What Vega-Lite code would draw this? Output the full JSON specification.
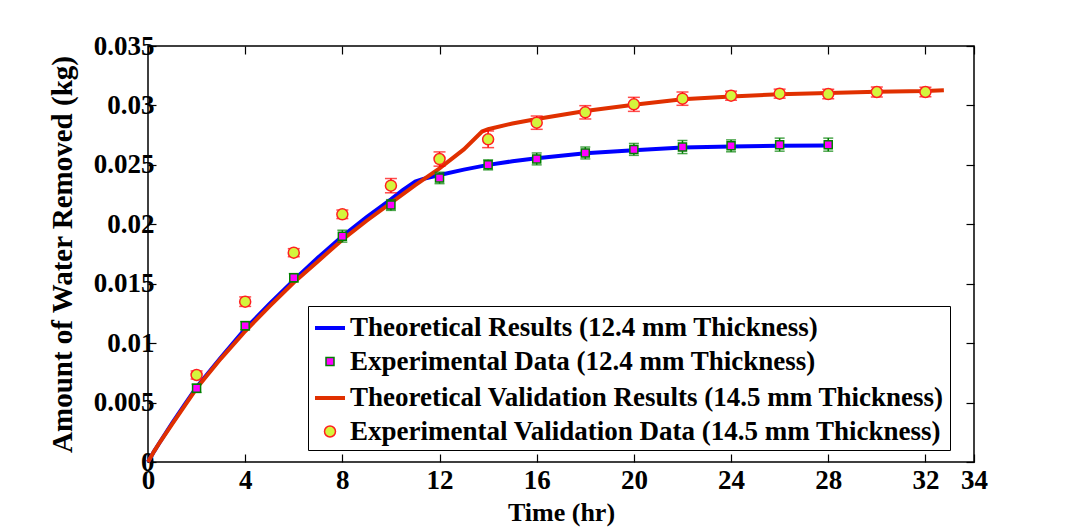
{
  "$schema": "https://vega.github.io/schema/vega-lite/v6.json",
  "width": 826,
  "height": 416,
  "autosize": {"type": "none"},
  "padding": {"left": 148, "top": 46, "right": 101, "bottom": 68},
  "background": "white",
  "config": {
    "font": "Liberation Serif",
    "view": {"stroke": "black", "strokeWidth": 1.5},
    "axis": {
      "labelFont": "Liberation Serif", "labelFontSize": 27, "labelFontWeight": "bold", "labelColor": "black",
      "titleFont": "Liberation Serif", "titleFontWeight": "bold", "titleColor": "black",
      "tickColor": "black", "tickSize": -8, "tickWidth": 1.2, "grid": false, "domain": false
    },
    "legend": {"labelFont": "Liberation Serif", "labelFontWeight": "bold"}
  },
  "datasets": {
    "theory": [
      {"series": "Theoretical Results (12.4 mm Thickness)", "t": 0, "w": 0},
      {"series": "Theoretical Results (12.4 mm Thickness)", "t": 0.25, "w": 0.0009},
      {"series": "Theoretical Results (12.4 mm Thickness)", "t": 0.5, "w": 0.0017},
      {"series": "Theoretical Results (12.4 mm Thickness)", "t": 1, "w": 0.0033},
      {"series": "Theoretical Results (12.4 mm Thickness)", "t": 1.5, "w": 0.0048},
      {"series": "Theoretical Results (12.4 mm Thickness)", "t": 2, "w": 0.0063},
      {"series": "Theoretical Results (12.4 mm Thickness)", "t": 3, "w": 0.0088},
      {"series": "Theoretical Results (12.4 mm Thickness)", "t": 4, "w": 0.0112},
      {"series": "Theoretical Results (12.4 mm Thickness)", "t": 5, "w": 0.0133},
      {"series": "Theoretical Results (12.4 mm Thickness)", "t": 6, "w": 0.0153},
      {"series": "Theoretical Results (12.4 mm Thickness)", "t": 7, "w": 0.0172},
      {"series": "Theoretical Results (12.4 mm Thickness)", "t": 8, "w": 0.019},
      {"series": "Theoretical Results (12.4 mm Thickness)", "t": 9, "w": 0.0206},
      {"series": "Theoretical Results (12.4 mm Thickness)", "t": 10, "w": 0.0221},
      {"series": "Theoretical Results (12.4 mm Thickness)", "t": 10.5, "w": 0.0229},
      {"series": "Theoretical Results (12.4 mm Thickness)", "t": 11, "w": 0.0236},
      {"series": "Theoretical Results (12.4 mm Thickness)", "t": 11.3, "w": 0.0238},
      {"series": "Theoretical Results (12.4 mm Thickness)", "t": 12, "w": 0.02415},
      {"series": "Theoretical Results (12.4 mm Thickness)", "t": 13, "w": 0.0246},
      {"series": "Theoretical Results (12.4 mm Thickness)", "t": 14, "w": 0.025},
      {"series": "Theoretical Results (12.4 mm Thickness)", "t": 15, "w": 0.0253},
      {"series": "Theoretical Results (12.4 mm Thickness)", "t": 16, "w": 0.02555},
      {"series": "Theoretical Results (12.4 mm Thickness)", "t": 18, "w": 0.02597},
      {"series": "Theoretical Results (12.4 mm Thickness)", "t": 20, "w": 0.02622},
      {"series": "Theoretical Results (12.4 mm Thickness)", "t": 22, "w": 0.02645},
      {"series": "Theoretical Results (12.4 mm Thickness)", "t": 24, "w": 0.02655},
      {"series": "Theoretical Results (12.4 mm Thickness)", "t": 26, "w": 0.0266},
      {"series": "Theoretical Results (12.4 mm Thickness)", "t": 28, "w": 0.02662},
      {"series": "Theoretical Validation Results (14.5 mm Thickness)", "t": 0, "w": 0},
      {"series": "Theoretical Validation Results (14.5 mm Thickness)", "t": 0.25, "w": 0.0009},
      {"series": "Theoretical Validation Results (14.5 mm Thickness)", "t": 0.5, "w": 0.0017},
      {"series": "Theoretical Validation Results (14.5 mm Thickness)", "t": 1, "w": 0.0032},
      {"series": "Theoretical Validation Results (14.5 mm Thickness)", "t": 1.5, "w": 0.0047},
      {"series": "Theoretical Validation Results (14.5 mm Thickness)", "t": 2, "w": 0.0062},
      {"series": "Theoretical Validation Results (14.5 mm Thickness)", "t": 3, "w": 0.0087},
      {"series": "Theoretical Validation Results (14.5 mm Thickness)", "t": 4, "w": 0.011},
      {"series": "Theoretical Validation Results (14.5 mm Thickness)", "t": 5, "w": 0.0131},
      {"series": "Theoretical Validation Results (14.5 mm Thickness)", "t": 6, "w": 0.0151},
      {"series": "Theoretical Validation Results (14.5 mm Thickness)", "t": 7, "w": 0.0169},
      {"series": "Theoretical Validation Results (14.5 mm Thickness)", "t": 8, "w": 0.0187},
      {"series": "Theoretical Validation Results (14.5 mm Thickness)", "t": 9, "w": 0.0203},
      {"series": "Theoretical Validation Results (14.5 mm Thickness)", "t": 10, "w": 0.0218},
      {"series": "Theoretical Validation Results (14.5 mm Thickness)", "t": 11, "w": 0.0233},
      {"series": "Theoretical Validation Results (14.5 mm Thickness)", "t": 12, "w": 0.0247},
      {"series": "Theoretical Validation Results (14.5 mm Thickness)", "t": 13, "w": 0.0263},
      {"series": "Theoretical Validation Results (14.5 mm Thickness)", "t": 13.75, "w": 0.0278},
      {"series": "Theoretical Validation Results (14.5 mm Thickness)", "t": 14, "w": 0.028},
      {"series": "Theoretical Validation Results (14.5 mm Thickness)", "t": 15, "w": 0.02848},
      {"series": "Theoretical Validation Results (14.5 mm Thickness)", "t": 16, "w": 0.02886},
      {"series": "Theoretical Validation Results (14.5 mm Thickness)", "t": 18, "w": 0.02953},
      {"series": "Theoretical Validation Results (14.5 mm Thickness)", "t": 20, "w": 0.03006},
      {"series": "Theoretical Validation Results (14.5 mm Thickness)", "t": 22, "w": 0.03051},
      {"series": "Theoretical Validation Results (14.5 mm Thickness)", "t": 24, "w": 0.03076},
      {"series": "Theoretical Validation Results (14.5 mm Thickness)", "t": 26, "w": 0.03094},
      {"series": "Theoretical Validation Results (14.5 mm Thickness)", "t": 28, "w": 0.03104},
      {"series": "Theoretical Validation Results (14.5 mm Thickness)", "t": 30, "w": 0.03116},
      {"series": "Theoretical Validation Results (14.5 mm Thickness)", "t": 32, "w": 0.03121},
      {"series": "Theoretical Validation Results (14.5 mm Thickness)", "t": 32.76, "w": 0.03127}
    ],
    "exp": [
      {"series": "Experimental Data (12.4 mm Thickness)", "t": 2, "w": 0.0062, "lo": 0.00585, "hi": 0.00655},
      {"series": "Experimental Data (12.4 mm Thickness)", "t": 4, "w": 0.01147, "lo": 0.01112, "hi": 0.01182},
      {"series": "Experimental Data (12.4 mm Thickness)", "t": 6, "w": 0.0155, "lo": 0.01515, "hi": 0.01585},
      {"series": "Experimental Data (12.4 mm Thickness)", "t": 8, "w": 0.019, "lo": 0.0185, "hi": 0.0195},
      {"series": "Experimental Data (12.4 mm Thickness)", "t": 10, "w": 0.02162, "lo": 0.02117, "hi": 0.02207},
      {"series": "Experimental Data (12.4 mm Thickness)", "t": 12, "w": 0.0239, "lo": 0.02342, "hi": 0.02438},
      {"series": "Experimental Data (12.4 mm Thickness)", "t": 14, "w": 0.025, "lo": 0.02458, "hi": 0.02542},
      {"series": "Experimental Data (12.4 mm Thickness)", "t": 16, "w": 0.0255, "lo": 0.025, "hi": 0.026},
      {"series": "Experimental Data (12.4 mm Thickness)", "t": 18, "w": 0.026, "lo": 0.0255, "hi": 0.0265},
      {"series": "Experimental Data (12.4 mm Thickness)", "t": 20, "w": 0.0263, "lo": 0.0258, "hi": 0.0268},
      {"series": "Experimental Data (12.4 mm Thickness)", "t": 22, "w": 0.0265, "lo": 0.02595, "hi": 0.02705},
      {"series": "Experimental Data (12.4 mm Thickness)", "t": 24, "w": 0.0266, "lo": 0.0261, "hi": 0.0271},
      {"series": "Experimental Data (12.4 mm Thickness)", "t": 26, "w": 0.0267, "lo": 0.02615, "hi": 0.02725},
      {"series": "Experimental Data (12.4 mm Thickness)", "t": 28, "w": 0.0267, "lo": 0.02615, "hi": 0.02725},
      {"series": "Experimental Validation Data (14.5 mm Thickness)", "t": 2, "w": 0.00732, "lo": 0.00698, "hi": 0.00766},
      {"series": "Experimental Validation Data (14.5 mm Thickness)", "t": 4, "w": 0.01349, "lo": 0.01309, "hi": 0.01389},
      {"series": "Experimental Validation Data (14.5 mm Thickness)", "t": 6, "w": 0.01761, "lo": 0.01727, "hi": 0.01795},
      {"series": "Experimental Validation Data (14.5 mm Thickness)", "t": 8, "w": 0.02084, "lo": 0.02048, "hi": 0.0212},
      {"series": "Experimental Validation Data (14.5 mm Thickness)", "t": 10, "w": 0.02325, "lo": 0.02265, "hi": 0.02385},
      {"series": "Experimental Validation Data (14.5 mm Thickness)", "t": 12, "w": 0.02549, "lo": 0.02489, "hi": 0.02609},
      {"series": "Experimental Validation Data (14.5 mm Thickness)", "t": 14, "w": 0.02715, "lo": 0.02645, "hi": 0.02785},
      {"series": "Experimental Validation Data (14.5 mm Thickness)", "t": 16, "w": 0.02855, "lo": 0.02799, "hi": 0.02911},
      {"series": "Experimental Validation Data (14.5 mm Thickness)", "t": 18, "w": 0.02942, "lo": 0.02886, "hi": 0.02998},
      {"series": "Experimental Validation Data (14.5 mm Thickness)", "t": 20, "w": 0.03009, "lo": 0.0295, "hi": 0.03068},
      {"series": "Experimental Validation Data (14.5 mm Thickness)", "t": 22, "w": 0.03057, "lo": 0.03001, "hi": 0.03113},
      {"series": "Experimental Validation Data (14.5 mm Thickness)", "t": 24, "w": 0.03082, "lo": 0.03044, "hi": 0.0312},
      {"series": "Experimental Validation Data (14.5 mm Thickness)", "t": 26, "w": 0.03099, "lo": 0.03061, "hi": 0.03137},
      {"series": "Experimental Validation Data (14.5 mm Thickness)", "t": 28, "w": 0.03096, "lo": 0.03056, "hi": 0.03136},
      {"series": "Experimental Validation Data (14.5 mm Thickness)", "t": 30, "w": 0.03113, "lo": 0.03071, "hi": 0.03155},
      {"series": "Experimental Validation Data (14.5 mm Thickness)", "t": 32, "w": 0.03113, "lo": 0.03073, "hi": 0.03153}
    ]
  },
  "resolve": {"axis": {"x": "independent", "y": "independent"}},
  "layer": [
    {
      "data": {"name": "theory"},
      "mark": {"type": "line", "strokeWidth": 4},
      "encoding": {
        "x": {"field": "t", "type": "quantitative", "scale": {"domain": [0, 34], "nice": false, "zero": false},
          "axis": {"orient": "bottom", "title": "Time (hr)", "titleFontSize": 26, "labelPadding": 13,
            "values": [0, 4, 8, 12, 16, 20, 24, 28, 32, 34], "labelFlush": false, "labelOverlap": false,
            "titleX": 413, "titleY": 58.7, "titleBaseline": "alphabetic"}},
        "y": {"field": "w", "type": "quantitative", "scale": {"domain": [0, 0.035], "nice": false},
          "axis": {"orient": "left", "title": "Amount of Water Removed (kg)", "titleFontSize": 29, "labelPadding": 2,
            "values": [0, 0.005, 0.01, 0.015, 0.02, 0.025, 0.03, 0.035], "format": "~g", "labelFlush": false, "labelOverlap": false,
            "titleX": -77, "titleY": 208, "titleBaseline": "alphabetic", "titleAngle": -90, "titleAlign": "center"}},
        "color": {"field": "series", "type": "nominal", "legend": null,
          "scale": {
            "domain": ["Theoretical Results (12.4 mm Thickness)", "Theoretical Validation Results (14.5 mm Thickness)"],
            "range": ["#0000ff", "#e03000"]
          }
        }
      }
    },
    {
      "data": {"name": "exp"},
      "transform": [{"filter": {"field": "series", "equal": "Experimental Data (12.4 mm Thickness)"}}],
      "layer": [
        {"mark": {"type": "rule", "color": "#008000", "strokeWidth": 1.5},
         "encoding": {"x": {"field": "t", "type": "quantitative", "axis": null}, "y": {"field": "lo", "type": "quantitative", "axis": null}, "y2": {"field": "hi"}}},
        {"mark": {"type": "tick", "color": "#008000", "orient": "horizontal", "size": 10, "thickness": 1.5},
         "encoding": {"x": {"field": "t", "type": "quantitative", "axis": null}, "y": {"field": "lo", "type": "quantitative", "axis": null}}},
        {"mark": {"type": "tick", "color": "#008000", "orient": "horizontal", "size": 10, "thickness": 1.5},
         "encoding": {"x": {"field": "t", "type": "quantitative", "axis": null}, "y": {"field": "hi", "type": "quantitative", "axis": null}}}
      ]
    },
    {
      "data": {"name": "exp"},
      "transform": [{"filter": {"field": "series", "equal": "Experimental Validation Data (14.5 mm Thickness)"}}],
      "layer": [
        {"mark": {"type": "rule", "color": "#ff0000", "strokeWidth": 1.5},
         "encoding": {"x": {"field": "t", "type": "quantitative", "axis": null}, "y": {"field": "lo", "type": "quantitative", "axis": null}, "y2": {"field": "hi"}}},
        {"mark": {"type": "tick", "color": "#ff0000", "orient": "horizontal", "size": 12, "thickness": 1.5},
         "encoding": {"x": {"field": "t", "type": "quantitative", "axis": null}, "y": {"field": "lo", "type": "quantitative", "axis": null}}},
        {"mark": {"type": "tick", "color": "#ff0000", "orient": "horizontal", "size": 12, "thickness": 1.5},
         "encoding": {"x": {"field": "t", "type": "quantitative", "axis": null}, "y": {"field": "hi", "type": "quantitative", "axis": null}}}
      ]
    },
    {
      "data": {"name": "exp"},
      "mark": {"type": "point", "filled": true, "opacity": 1},
      "encoding": {
        "x": {"field": "t", "type": "quantitative", "axis": null},
        "y": {"field": "w", "type": "quantitative", "axis": null},
        "shape": {"field": "series", "type": "nominal",
          "scale": {"domain": ["Theoretical Results (12.4 mm Thickness)", "Experimental Data (12.4 mm Thickness)", "Theoretical Validation Results (14.5 mm Thickness)", "Experimental Validation Data (14.5 mm Thickness)"],
            "range": ["stroke", "square", "stroke", "circle"]},
          "legend": {
            "title": null, "orient": "none", "legendX": 160, "legendY": 260,
            "fillColor": "white", "strokeColor": "black", "padding": 5,
            "labelFont": "Liberation Serif", "labelFontSize": 27, "labelFontWeight": "bold", "labelColor": "black",
            "labelOffset": 3, "rowPadding": 6, "labelLimit": 1000
          }},
        "fill": {"field": "series", "type": "nominal",
          "scale": {"domain": ["Theoretical Results (12.4 mm Thickness)", "Experimental Data (12.4 mm Thickness)", "Theoretical Validation Results (14.5 mm Thickness)", "Experimental Validation Data (14.5 mm Thickness)"],
            "range": ["transparent", "#ff00ff", "transparent", "#d4f53c"]}},
        "stroke": {"field": "series", "type": "nominal",
          "scale": {"domain": ["Theoretical Results (12.4 mm Thickness)", "Experimental Data (12.4 mm Thickness)", "Theoretical Validation Results (14.5 mm Thickness)", "Experimental Validation Data (14.5 mm Thickness)"],
            "range": ["#0000ff", "#008000", "#e03000", "#ff2020"]}},
        "size": {"field": "series", "type": "nominal",
          "scale": {"type": "ordinal", "domain": ["Theoretical Results (12.4 mm Thickness)", "Experimental Data (12.4 mm Thickness)", "Theoretical Validation Results (14.5 mm Thickness)", "Experimental Validation Data (14.5 mm Thickness)"],
            "range": [900, 64, 900, 121]}},
        "strokeWidth": {"field": "series", "type": "nominal",
          "scale": {"type": "ordinal", "domain": ["Theoretical Results (12.4 mm Thickness)", "Experimental Data (12.4 mm Thickness)", "Theoretical Validation Results (14.5 mm Thickness)", "Experimental Validation Data (14.5 mm Thickness)"],
            "range": [4, 1.5, 4, 1.5]}}
      }
    },
    {
      "data": {"name": "theory"},
      "mark": {"type": "point", "opacity": 0},
      "encoding": {
        "x": {"field": "t", "type": "quantitative",
          "axis": {"orient": "top", "labels": false, "title": null, "values": [0, 4, 8, 12, 16, 20, 24, 28, 32, 34]}},
        "y": {"field": "w", "type": "quantitative",
          "axis": {"orient": "right", "labels": false, "title": null, "values": [0, 0.005, 0.01, 0.015, 0.02, 0.025, 0.03, 0.035]}}
      }
    }
  ]
}
